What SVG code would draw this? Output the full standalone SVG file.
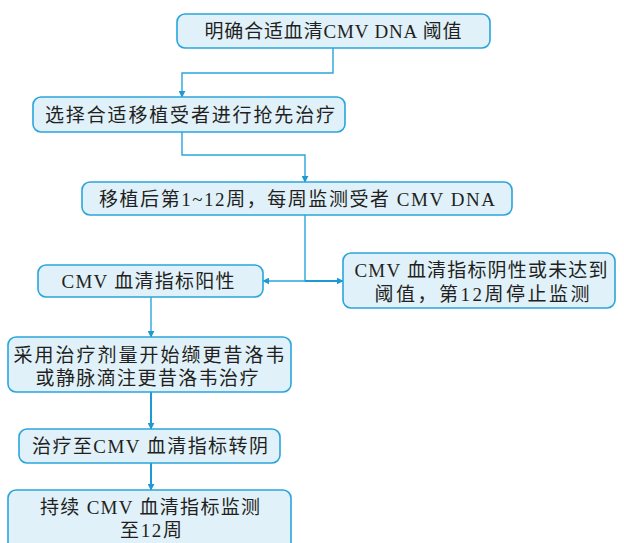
<svg xmlns="http://www.w3.org/2000/svg" width="624" height="543" viewBox="0 0 624 543">
<defs>
<style>
.box{fill:#e0f1fa;stroke:#2aa5dc;stroke-width:1.6}
.t{font-family:"Liberation Serif","Noto Sans CJK SC",serif;font-size:19px;fill:#231f20;text-anchor:middle}
.c{fill:none;stroke:#2aa5dc;stroke-width:1.4}
.ct{fill:none;stroke:#1f98d6;stroke-width:2}
</style>
<marker id="ah" viewBox="0 0 10 10" refX="9" refY="5" markerWidth="7" markerHeight="7" markerUnits="userSpaceOnUse" orient="auto">
<path d="M0,0 L10,5 L0,10 z" fill="#1f98d6"/>
</marker>
</defs>
<rect width="624" height="543" fill="#ffffff"/>
<g id="connectors">
<path class="c" d="M333,48 V73 H182 V97" marker-end="url(#ah)"/>
<path class="c" d="M182,132 V155 H305 V182" marker-end="url(#ah)"/>
<path class="c" d="M305,215 V281 H263" marker-end="url(#ah)"/>
<path class="ct" d="M305,281 H343" marker-end="url(#ah)"/>
<path class="c" d="M151,297 V337" marker-end="url(#ah)"/>
<path class="ct" d="M151,392 V429" marker-end="url(#ah)"/>
<path class="ct" d="M151,463 V490" marker-end="url(#ah)"/>
</g>
<g id="n1">
<rect class="box" x="177" y="14" width="313" height="34" rx="8"/>
<text class="t" x="333" y="38" textLength="257" lengthAdjust="spacing">明确合适血清CMV DNA 阈值</text>
</g>
<g id="n2">
<rect class="box" x="33" y="97" width="312" height="35" rx="8"/>
<text class="t" x="190" y="121.5" textLength="290" lengthAdjust="spacing">选择合适移植受者进行抢先治疗</text>
</g>
<g id="n3">
<rect class="box" x="82" y="182" width="430" height="33" rx="8"/>
<text class="t" x="297" y="205.5" textLength="396" lengthAdjust="spacing">移植后第1~12周，每周监测受者 CMV DNA</text>
</g>
<g id="n4">
<rect class="box" x="38" y="265" width="225" height="32" rx="8"/>
<text class="t" x="148" y="287.5" textLength="173" lengthAdjust="spacing">CMV 血清指标阳性</text>
</g>
<g id="n5">
<rect class="box" x="343" y="253" width="272" height="55" rx="8"/>
<text class="t" x="481" y="276.5" textLength="253" lengthAdjust="spacing">CMV 血清指标阴性或未达到</text>
<text class="t" x="482" y="300.5" textLength="215" lengthAdjust="spacing">阈值，第12周停止监测</text>
</g>
<g id="n6">
<rect class="box" x="8" y="337" width="283" height="55" rx="8"/>
<text class="t" x="149" y="361.5" textLength="271" lengthAdjust="spacing">采用治疗剂量开始缬更昔洛韦</text>
<text class="t" x="147" y="384.5" textLength="223" lengthAdjust="spacing">或静脉滴注更昔洛韦治疗</text>
</g>
<g id="n7">
<rect class="box" x="19" y="429" width="261" height="34" rx="8"/>
<text class="t" x="150" y="453" textLength="236" lengthAdjust="spacing">治疗至CMV 血清指标转阴</text>
</g>
<g id="n8">
<rect class="box" x="8" y="490" width="283" height="70" rx="8"/>
<text class="t" x="150" y="513.5" textLength="220" lengthAdjust="spacing">持续 CMV 血清指标监测</text>
<text class="t" x="151" y="536.5" textLength="62" lengthAdjust="spacing">至12周</text>
</g>
</svg>
